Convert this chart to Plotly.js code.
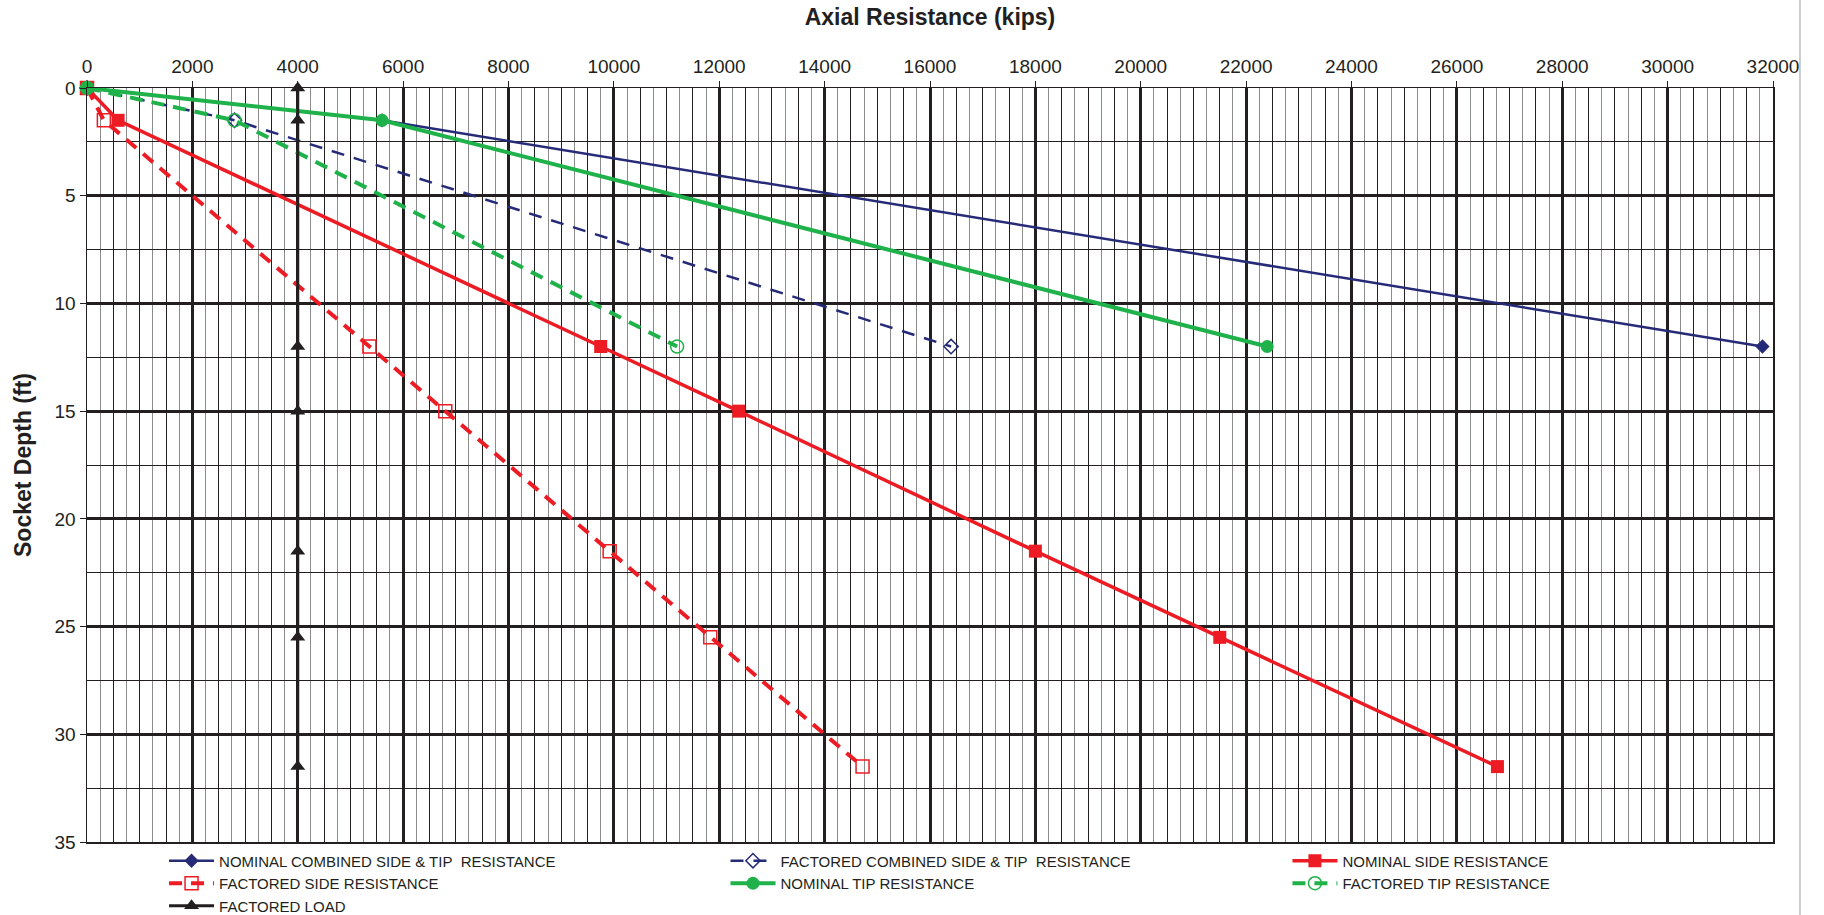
<!DOCTYPE html>
<html>
<head>
<meta charset="utf-8">
<script src="https://cdn.plot.ly/plotly-3.0.1.min.js"></script>
<style>html,body{margin:0;padding:0;background:#fff;}#chart{width:1824px;height:915px;}</style>
</head>
<body>
<div id="chart"></div>
<script>
// ---- data (kips vs socket depth, ft) ----
const tipDepth = [0, 1.5, 12];
const nominalCombined = [0, 5600, 31800];
const factoredCombined = [0, 2800, 16400];
const nominalTip = [0, 5600, 22400];
const factoredTip = [0, 2800, 11200];

const sideDepth = [0, 1.5, 12, 15, 21.5, 25.5, 31.5];
const nominalSide = [0, 590, 9750, 12370, 18000, 21500, 26770];
const factoredSide = [0, 320, 5360, 6800, 9920, 11830, 14720];

const loadDepth = [0, 1.5, 12, 15, 21.5, 25.5, 31.5];
const factoredLoad = [4000, 4000, 4000, 4000, 4000, 4000, 4000];

const seriesNames = [
  'NOMINAL COMBINED SIDE &amp; TIP\u00a0 RESISTANCE',
  'FACTORED COMBINED SIDE &amp; TIP\u00a0 RESISTANCE',
  'NOMINAL SIDE RESISTANCE',
  'FACTORED SIDE RESISTANCE',
  'NOMINAL TIP RESISTANCE',
  'FACTORED TIP RESISTANCE',
  'FACTORED LOAD'
];

const NAVY = '#262b78', RED = '#ed1c24', GREEN = '#1fb24a', BLACK = '#231f20';

const traces = [
  {x: nominalCombined, y: tipDepth, name: seriesNames[0], legend: 'legend',
   mode: 'lines+markers', line: {color: NAVY, width: 2.5},
   marker: {symbol: 'diamond', size: 11, color: NAVY}},
  {x: factoredCombined, y: tipDepth, name: seriesNames[1], legend: 'legend2',
   mode: 'lines+markers', line: {color: NAVY, width: 2.5, dash: '13px,10px'},
   marker: {symbol: 'diamond-open', size: 11, color: NAVY, line: {width: 1.5, color: NAVY}}},
  {x: nominalSide, y: sideDepth, name: seriesNames[2], legend: 'legend3',
   mode: 'lines+markers', line: {color: RED, width: 3.5},
   marker: {symbol: 'square', size: 13, color: RED}},
  {x: factoredSide, y: sideDepth, name: seriesNames[3], legend: 'legend',
   mode: 'lines+markers', line: {color: RED, width: 4, dash: '13px,9px'},
   marker: {symbol: 'square-open', size: 13, color: RED, line: {width: 1.5, color: RED}}},
  {x: nominalTip, y: tipDepth, name: seriesNames[4], legend: 'legend2',
   mode: 'lines+markers', line: {color: GREEN, width: 4},
   marker: {symbol: 'circle', size: 13, color: GREEN}},
  {x: factoredTip, y: tipDepth, name: seriesNames[5], legend: 'legend3',
   mode: 'lines+markers', line: {color: GREEN, width: 4, dash: '13px,9px'},
   marker: {symbol: 'circle-open', size: 13, color: GREEN, line: {width: 1.5, color: GREEN}}},
  {x: factoredLoad, y: loadDepth, name: seriesNames[6], legend: 'legend',
   mode: 'lines+markers', line: {color: BLACK, width: 3},
   marker: {symbol: 'triangle-up', size: 13, color: BLACK}},
  // helper trace to carry the 500-kip grid axis
  {x: [0], y: [0], xaxis: 'x2', yaxis: 'y', mode: 'markers', showlegend: false,
   hoverinfo: 'skip', marker: {opacity: 0}}
];
traces.forEach(t => { t.cliponaxis = false; });

const legendFont = {family: 'Liberation Sans, Arial, sans-serif', size: 15, color: BLACK};
const legendBase = {orientation: 'v', yanchor: 'top', xanchor: 'left', y: -0.0033,
  font: legendFont, itemwidth: 45, tracegroupgap: 0, bgcolor: 'rgba(0,0,0,0)',
  itemclick: false, itemdoubleclick: false};

const layout = {
  width: 1824, height: 915,
  margin: {l: 87, r: 51, t: 88, b: 73, autoexpand: false},
  paper_bgcolor: '#ffffff', plot_bgcolor: '#ffffff',
  font: {family: 'Liberation Sans, Arial, sans-serif', color: BLACK},
  showlegend: true,
  xaxis: {
    side: 'top', range: [0, 32000], dtick: 2000, tick0: 0, tickformat: 'd',
    showgrid: true, gridcolor: BLACK, gridwidth: 3,
    minor: {dtick: 250, showgrid: true, gridcolor: '#8c8c8c', gridwidth: 1, ticks: ''},
    zeroline: true, zerolinecolor: BLACK, zerolinewidth: 1,
    showline: true, mirror: true, linecolor: BLACK, linewidth: 1.5,
    ticks: 'outside', ticklen: 6, tickcolor: BLACK, tickwidth: 1,
    tickfont: {size: 19, color: BLACK},
    title: {text: 'Axial Resistance (kips)', font: {size: 23, color: BLACK, weight: 'bold'}, standoff: 24},
    automargin: false
  },
  xaxis2: {
    overlaying: 'x', side: 'top', range: [0, 32000], dtick: 500, tick0: 0,
    showgrid: true, gridcolor: BLACK, gridwidth: 1, showticklabels: false,
    ticks: '', zeroline: false, showline: false, anchor: 'y'
  },
  yaxis: {
    range: [35, 0], dtick: 5, tick0: 0,
    showgrid: true, gridcolor: BLACK, gridwidth: 3,
    minor: {dtick: 2.5, showgrid: true, gridcolor: BLACK, gridwidth: 1, ticks: ''},
    zeroline: true, zerolinecolor: BLACK, zerolinewidth: 1,
    showline: true, mirror: true, linecolor: BLACK, linewidth: 1.5,
    ticks: 'outside', ticklen: 6, tickcolor: BLACK, tickwidth: 1,
    tickfont: {size: 19, color: BLACK},
    title: {text: 'Socket Depth (ft)', font: {size: 23, color: BLACK, weight: 'bold'}, standoff: 16},
    automargin: false
  },
  legend: Object.assign({}, legendBase, {x: 0.0457}),
  legend2: Object.assign({}, legendBase, {x: 0.3787}),
  legend3: Object.assign({}, legendBase, {x: 0.712}),
  shapes: [
    {type: 'line', xref: 'paper', yref: 'paper', x0: 1.016, x1: 1.016, y0: -0.13, y1: 1.12,
     line: {color: '#bdbdbd', width: 1.5}}
  ]
};

Plotly.newPlot('chart', traces, layout, {displayModeBar: false, staticPlot: true});
</script>
</body>
</html>
